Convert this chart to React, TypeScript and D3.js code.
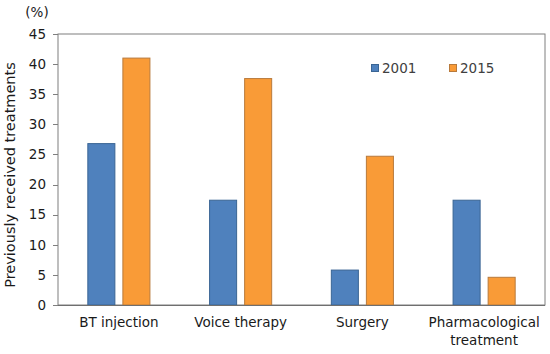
import React from "react";
import * as d3 from "d3";

const categories = ["BT injection", "Voice therapy", "Surgery", "Pharmacological\ntreatment"];
const seriesNames = ["2001", "2015"];
const values2001 = [26.8, 17.4, 5.8, 17.4];
const values2015 = [41.0, 37.6, 24.7, 4.6];
const yTicks = [0, 5, 10, 15, 20, 25, 30, 35, 40, 45];
const colors = ["#4f81bd", "#f99b37"];
const strokes = ["#3a6594", "#b87a3c"];

export default function App() {
  const W = 550, H = 354;
  const left = 58, right = 545, top = 34, bottom = 305;
  const y = d3.scaleLinear().domain([0, 45]).range([bottom, top]);
  const x0 = d3.scaleBand<string>().domain(categories).range([left, right]).paddingInner(0.49).paddingOuter(0.245);
  const x1 = d3.scaleBand<string>().domain(seriesNames).range([0, x0.bandwidth()]).paddingInner(0.2286);
  const series = [values2001, values2015];
  const font = "DejaVu Sans, Verdana, sans-serif";
  return (
    <svg width={W} height={H} style={{ position: "absolute", left: 0, top: 0, background: "#fff" }} fontFamily={font}>
      <rect x={0} y={0} width={W} height={H} fill="#fff" />
      <rect x={left} y={top} width={right - left} height={bottom - top} fill="none" stroke="#7f7f7f" strokeWidth={1} />
      {yTicks.map((t) => (
        <g key={t}>
          <line x1={left - 5} x2={left} y1={Math.round(y(t)) + 0.5} y2={Math.round(y(t)) + 0.5} stroke="#7f7f7f" />
          <text x={46} y={y(t)} dy="0.35em" textAnchor="end" fontSize={13.5} fill="#1a1a1a">{t}</text>
        </g>
      ))}
      {categories.map((c, i) =>
        seriesNames.map((s, j) => {
          const v = series[j][i];
          const bx = (x0(c) as number) + (x1(s) as number);
          return (
            <rect key={c + s} x={bx} y={y(v)} width={x1.bandwidth()} height={bottom - y(v)}
              fill={colors[j]} stroke={strokes[j]} strokeWidth={1} />
          );
        })
      )}
      <line x1={left} x2={right} y1={bottom + 0.5} y2={bottom + 0.5} stroke="#6f6f6f" />
      {categories.map((c) => {
        const cx = (x0(c) as number) + x0.bandwidth() / 2;
        const lines = c.split("\n");
        return (
          <text key={c} x={cx} y={327} textAnchor="middle" fontSize={13.5} fill="#1a1a1a">
            {lines.map((l, k) => (
              <tspan key={k} x={cx} dy={k === 0 ? 0 : 18}>{l}</tspan>
            ))}
          </text>
        );
      })}
      <text x={37} y={17} textAnchor="middle" fontSize={13.5} fill="#1a1a1a">(%)</text>
      <text transform={`translate(15,175) rotate(-90)`} textAnchor="middle" fontSize={14.5} fill="#1a1a1a">
        Previously received treatments
      </text>
      {seriesNames.map((s, j) => {
        const lx = 371 + j * 78;
        return (
          <g key={s}>
            <rect x={lx + 0.5} y={64.5} width={7} height={7} fill={colors[j]} stroke={strokes[j]} />
            <text x={lx + 11} y={73} fontSize={13.5} fill="#404040">{s}</text>
          </g>
        );
      })}
    </svg>
  );
}
